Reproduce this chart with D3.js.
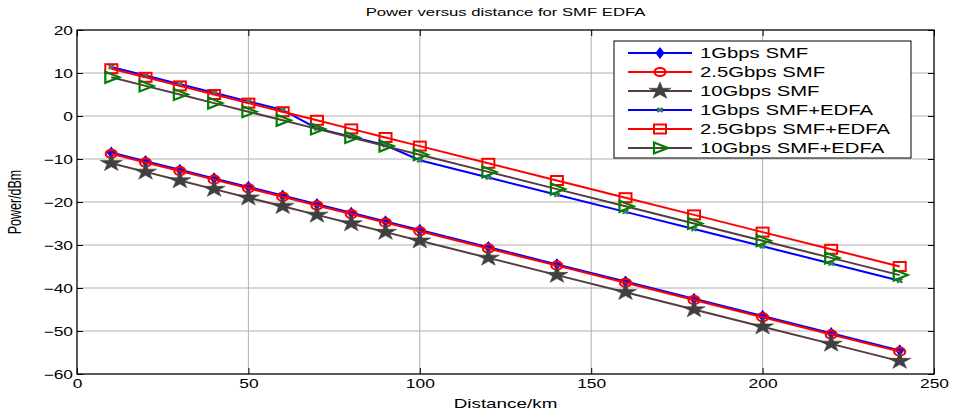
<!DOCTYPE html>
<html>
<head>
<meta charset="utf-8">
<script src="https://cdn.jsdelivr.net/npm/d3@7"></script>
<style>
  body { margin: 0; background: #fff; }
  svg { display: block; font-family: "Liberation Sans", Arial, sans-serif; }
</style>
</head>
<body>
<svg id="chart" width="956" height="412"></svg>
<script>
// distance in km
const distance = [10, 20, 30, 40, 50, 60, 70, 80, 90, 100, 120, 140, 160, 180, 200, 220, 240];

// received power in dBm
const p1gSmf = [-8.5, -10.5, -12.5, -14.5, -16.5, -18.5, -20.5, -22.5, -24.5, -26.5, -30.5, -34.5, -38.5, -42.5, -46.5, -50.5, -54.5];
const p25gSmf = [-8.8, -10.8, -12.8, -14.8, -16.8, -18.8, -20.8, -22.8, -24.8, -26.8, -30.8, -34.8, -38.8, -42.8, -46.8, -50.8, -54.8];
const p10gSmf = [-11, -13, -15, -17, -19, -21, -23, -25, -27, -29, -33, -37, -41, -45, -49, -53, -57];
const p1gEdfa = [11.4, 9.4, 7.4, 5.4, 3.4, 1.4, -2.9, -4.8, -6.8, -10.3, -14.3, -18.3, -22.3, -26.3, -30.3, -34.3, -38.3];
const p25gEdfa = [11, 9, 7, 5, 3, 1, -1, -3, -5, -7, -11, -15, -19, -23, -27, -31, -35];
const p10gEdfa = [9, 7, 5, 3, 1, -1, -3, -5, -7, -9, -13, -17, -21, -25, -29, -33, -37];

const seriesNames = ["1Gbps SMF", "2.5Gbps SMF", "10Gbps SMF", "1Gbps SMF+EDFA", "2.5Gbps SMF+EDFA", "10Gbps SMF+EDFA"];
const xTicks = [0, 50, 100, 150, 200, 250];
const yTicks = [20, 10, 0, -10, -20, -30, -40, -50, -60];

const brown = "#573c3c";
const series = [
  { name: seriesNames[0], values: p1gSmf, line: "#0000ff", marker: "diamond" },
  { name: seriesNames[1], values: p25gSmf, line: "#ff0000", marker: "circle" },
  { name: seriesNames[2], values: p10gSmf, line: brown, marker: "star" },
  { name: seriesNames[3], values: p1gEdfa, line: "#0000ff", marker: "dot" },
  { name: seriesNames[4], values: p25gEdfa, line: "#ff0000", marker: "square" },
  { name: seriesNames[5], values: p10gEdfa, line: brown, marker: "triangle" }
];

// the whole figure is stretched sideways, text included
const stretch = 1.45;

const margin = { top: 30, right: 22, bottom: 38, left: 77 };
const width = 956, height = 412;

const svg = d3.select("#chart");

const x = d3.scaleLinear().domain([0, 250]).range([margin.left, width - margin.right]);
const y = d3.scaleLinear().domain([-60, 20]).range([height - margin.bottom, margin.top]);

// grid
svg.append("g")
  .selectAll("line")
  .data(xTicks.slice(1, -1))
  .join("line")
  .attr("x1", (d) => x(d)).attr("x2", (d) => x(d))
  .attr("y1", y(20)).attr("y2", y(-60))
  .attr("stroke", "#b0b0b0")
  .attr("stroke-width", 1);
svg.append("g")
  .selectAll("line")
  .data(yTicks.slice(1, -1))
  .join("line")
  .attr("x1", x(0)).attr("x2", x(250))
  .attr("y1", (d) => y(d)).attr("y2", (d) => y(d))
  .attr("stroke", "#b0b0b0")
  .attr("stroke-width", 1);

// axes, ticks pointing inward
const xAxis = d3.axisBottom(x).tickValues(xTicks).tickSizeInner(-6).tickSizeOuter(0);
const yAxis = d3.axisLeft(y).tickValues(yTicks).tickSizeInner(-6).tickSizeOuter(0);

svg.append("g")
  .attr("transform", `translate(0,${y(-60)})`)
  .call(xAxis)
  .call((g) => g.select(".domain").remove())
  .call((g) => g.selectAll("text")
    .attr("font-size", 12).attr("fill", "#000")
    .attr("y", 0).attr("dy", "0.71em")
    .attr("transform", `translate(0,5) scale(${stretch},1)`));
svg.append("g")
  .attr("transform", `translate(${x(0)},0)`)
  .call(yAxis)
  .call((g) => g.select(".domain").remove())
  .call((g) => g.selectAll("text")
    .attr("font-size", 12).attr("fill", "#000")
    .attr("x", 0).attr("dy", "0.36em")
    .attr("transform", `translate(-4,0) scale(${stretch},1)`));
svg.append("g")
  .attr("transform", `translate(0,${y(20)})`)
  .call(d3.axisTop(x).tickValues(xTicks).tickSizeInner(-6).tickSizeOuter(0).tickFormat(""))
  .call((g) => g.select(".domain").remove());
svg.append("g")
  .attr("transform", `translate(${x(250)},0)`)
  .call(d3.axisRight(y).tickValues(yTicks).tickSizeInner(-6).tickSizeOuter(0).tickFormat(""))
  .call((g) => g.select(".domain").remove());

// plot box
svg.append("rect")
  .attr("x", x(0)).attr("y", y(20))
  .attr("width", x(250) - x(0)).attr("height", y(-60) - y(20))
  .attr("fill", "none").attr("stroke", "#000").attr("stroke-width", 1.3);

const drawMarker = (g, kind) => {
  if (kind === "diamond") {
    g.append("path").attr("d", d3.symbol(d3.symbolDiamond, 30)())
      .attr("transform", "scale(1.3,1)")
      .attr("fill", "#0000ff").attr("stroke", "#0000ff");
  } else if (kind === "circle") {
    g.append("ellipse").attr("rx", 5.5).attr("ry", 4)
      .attr("fill", "none").attr("stroke", "#ff0000").attr("stroke-width", 2.2);
  } else if (kind === "star") {
    g.append("path").attr("d", d3.symbol(d3.symbolStar, 90)())
      .attr("transform", "scale(1.3,1)")
      .attr("fill", "#404040").attr("stroke", "#404040").attr("stroke-width", 0.5);
  } else if (kind === "dot") {
    g.append("path").attr("d", d3.symbol(d3.symbolX, 12)())
      .attr("transform", "scale(1.3,1)")
      .attr("fill", "none").attr("stroke", "#3d7d5d").attr("stroke-width", 2);
  } else if (kind === "square") {
    g.append("rect").attr("x", -6).attr("y", -4.5).attr("width", 12).attr("height", 9)
      .attr("fill", "none").attr("stroke", "#ff0000").attr("stroke-width", 2);
  } else if (kind === "triangle") {
    g.append("path").attr("d", "M-6,-5.5L8,0L-6,5.5Z")
      .attr("fill", "none").attr("stroke", "#008000").attr("stroke-width", 2.2);
  }
};

const line = (values) =>
  d3.line().x((d, i) => x(distance[i])).y((d) => y(d))(values);

series.forEach((s) => {
  svg.append("path")
    .attr("d", line(s.values))
    .attr("fill", "none")
    .attr("stroke", s.line)
    .attr("stroke-width", 2);
  s.values.forEach((v, i) => {
    const g = svg.append("g").attr("transform", `translate(${x(distance[i])},${y(v)})`);
    drawMarker(g, s.marker);
  });
});

// title and labels
const cx = (x(0) + x(250)) / 2;
svg.append("text")
  .attr("transform", `translate(${cx},16) scale(${stretch},1)`)
  .attr("text-anchor", "middle").attr("font-size", 11.5)
  .text("Power versus distance for SMF EDFA");
svg.append("text")
  .attr("transform", `translate(${cx},408) scale(${stretch},1)`)
  .attr("text-anchor", "middle").attr("font-size", 13)
  .text("Distance/km");
svg.append("text")
  .attr("transform", `translate(21,${(y(20) + y(-60)) / 2}) scale(${stretch},1) rotate(-90)`)
  .attr("text-anchor", "middle").attr("font-size", 12.5)
  .text("Power/dBm");

// legend
const legend = svg.append("g").attr("transform", "translate(614,41)");
legend.append("rect")
  .attr("width", 297).attr("height", 117)
  .attr("fill", "#fff").attr("stroke", "#000").attr("stroke-width", 1);
series.forEach((s, i) => {
  const row = legend.append("g").attr("transform", `translate(0,${12 + i * 19})`);
  row.append("line")
    .attr("x1", 14).attr("x2", 78)
    .attr("stroke", s.line).attr("stroke-width", 2);
  drawMarker(row.append("g").attr("transform", "translate(46,0)"), s.marker);
  row.append("text")
    .attr("transform", `translate(86,0) scale(${stretch},1)`)
    .attr("dy", "0.36em")
    .attr("font-size", 14)
    .text(s.name);
});
</script>
</body>
</html>
